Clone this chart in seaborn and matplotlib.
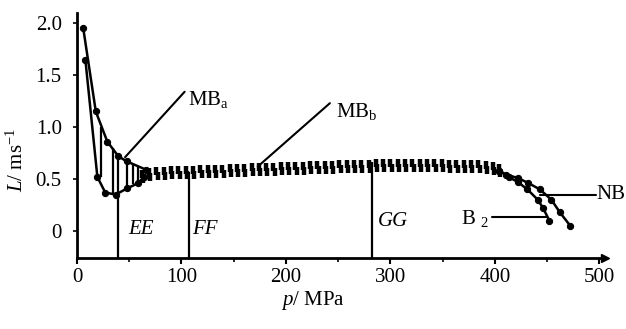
import numpy as np
import pandas as pd
import matplotlib
matplotlib.use("Agg")
import matplotlib.pyplot as plt
import seaborn as sns

# --- data -------------------------------------------------------------
# MB_a region: two branches at low pressure
mba_upper_p = [6, 18, 29, 39.5, 47.5, 66]
mba_upper_L = [1.95, 1.15, 0.86, 0.72, 0.67, 0.59]
mba_lower_p = [8, 19.5, 27, 37, 48, 58.5, 64]
mba_lower_L = [1.65, 0.52, 0.37, 0.35, 0.41, 0.46, 0.52]

# hatch lines between the two MB_a branches
hatch_p = [23, 34, 48, 54, 58]
hatch_lo = [0.52, 0.37, 0.42, 0.45, 0.47]
hatch_hi = [1.00, 0.80, 0.67, 0.64, 0.62]

# MB_b plateau (dotted band)
band_p = [62, 69, 76, 83, 90, 97, 104, 111, 118, 125, 132, 139, 146, 153,
          160, 167, 174, 181, 188, 195, 202, 209, 216, 223, 230, 237, 244,
          251, 258, 265, 272, 279, 286, 293, 300, 307, 314, 321, 328, 335,
          342, 349, 356, 363, 370, 377, 384, 391, 398, 404]
band_L = [0.52, 0.54, 0.55, 0.55, 0.56, 0.56, 0.56, 0.56, 0.57, 0.57,
          0.57, 0.57, 0.58, 0.58, 0.58, 0.59, 0.59, 0.59, 0.59, 0.60,
          0.60, 0.60, 0.60, 0.61, 0.61, 0.61, 0.61, 0.62, 0.62, 0.62,
          0.62, 0.62, 0.63, 0.63, 0.63, 0.63, 0.63, 0.63, 0.63, 0.63,
          0.63, 0.63, 0.62, 0.62, 0.62, 0.62, 0.62, 0.61, 0.60, 0.58]

# high-pressure branches
nb_p = [404, 411, 422, 432, 443, 454, 462, 472]
nb_L = [0.58, 0.54, 0.51, 0.46, 0.40, 0.30, 0.18, 0.05]
b2_p = [404, 413, 422, 431, 441, 446, 452]
b2_L = [0.58, 0.52, 0.47, 0.40, 0.30, 0.22, 0.10]

# region boundaries (pressure, top of line)
bound_p = [39.5, 107, 282]
bound_top = [0.72, 0.57, 0.66]

x_ticks = [0, 100, 200, 300, 400, 500]
y_ticks = [0, 0.5, 1.0, 1.5, 2.0]
y_ticklabels = ["0", "0.5", "1.0", "1.5", "2.0"]

# --- style ------------------------------------------------------------
sns.set_theme(style="ticks")
plt.rcParams["font.family"] = ["Liberation Serif", "DejaVu Serif"]
plt.rcParams["mathtext.fontset"] = "custom"
plt.rcParams["mathtext.rm"] = "Liberation Serif"
plt.rcParams["mathtext.it"] = "Liberation Serif:italic"
plt.rcParams["text.color"] = "black"
plt.rcParams["axes.labelcolor"] = "black"

fs = 15
fig = plt.figure(figsize=(6.26, 3.29), dpi=100)
ax = fig.add_axes([0.123, 0.216, 0.843, 0.745])

ymin, ymax = -0.26, 2.10
ax.set_xlim(0, 505)
ax.set_ylim(ymin, ymax)

lw = 1.8
ms = 4.5
line_kw = dict(ax=ax, color="black", lw=lw, marker="o", ms=ms, mec="black",
               sort=False, estimator=None)
sns.lineplot(x=mba_upper_p, y=mba_upper_L, **line_kw)
sns.lineplot(x=mba_lower_p, y=mba_lower_L, **line_kw)
ax.vlines(hatch_p, hatch_lo, hatch_hi, color="black", lw=1.6)

# dotted plateau band: two rows of short heavy marks
band = pd.DataFrame({"p": band_p, "L": band_L})
ax.scatter(band["p"], band["L"] + 0.024, marker="|", s=34, lw=3.2,
           color="black", zorder=3)
ax.scatter(band["p"] + 1.2, band["L"] - 0.024, marker="|", s=34, lw=3.2,
           color="black", zorder=3)

sns.lineplot(x=nb_p, y=nb_L, **line_kw)
sns.lineplot(x=b2_p, y=b2_L, **line_kw)

# region boundary lines
ax.vlines(bound_p, ymin, bound_top, color="black", lw=1.6)

# leader lines and labels
ax.plot([46, 103], [0.71, 1.34], color="black", lw=1.5)
ax.text(106, 1.27, r"MB$_\mathrm{a}$", fontsize=fs, va="center", ha="left")
ax.plot([173, 242], [0.62, 1.23], color="black", lw=1.5)
ax.text(248, 1.15, r"MB$_\mathrm{b}$", fontsize=fs, va="center", ha="left")
ax.plot([443, 497], [0.35, 0.35], color="black", lw=1.5)
ax.text(497, 0.35, "NB", fontsize=fs, va="center", ha="left")
ax.plot([397, 450], [0.13, 0.13], color="black", lw=1.5)
ax.text(367, 0.12, r"B $_2$", fontsize=fs, va="center", ha="left")

ax.text(49, 0.01, "EE", fontsize=fs, style="italic", va="center", ha="left")
ax.text(110, 0.01, "FF", fontsize=fs, style="italic", va="center", ha="left")
ax.text(288, 0.09, "GG", fontsize=fs, style="italic", va="center", ha="left")

# axes
sns.despine(ax=ax)
for s in ("left", "bottom"):
    ax.spines[s].set_linewidth(2.0)
    ax.spines[s].set_color("black")
ax.plot(1.0, 0.0, ">", color="black", ms=6, transform=ax.transAxes,
        clip_on=False)

ax.set_xticks(x_ticks)
ax.set_xticklabels([str(t) for t in x_ticks], fontsize=fs)
ax.set_xticks([50, 150, 250, 350, 450], minor=True)
ax.set_yticks(y_ticks)
ax.set_yticklabels(y_ticklabels, fontsize=fs)
ax.tick_params(axis="x", which="major", direction="out", length=4, width=1.5,
               pad=3, colors="black")
ax.tick_params(axis="x", which="minor", direction="out", length=3, width=1.2,
               colors="black")
ax.tick_params(axis="y", direction="out", length=3, width=1.2, pad=8,
               colors="black")

fig.text(17 / 626, 1 - 160 / 329, r"$L$/ ms$^{-1}$", rotation=90,
         fontsize=fs, va="center", ha="center")
fig.text(313 / 626, 1 - 300 / 329, r"$p$/ MPa", fontsize=fs,
         va="center", ha="center")

fig.savefig("out.png", dpi=100)
